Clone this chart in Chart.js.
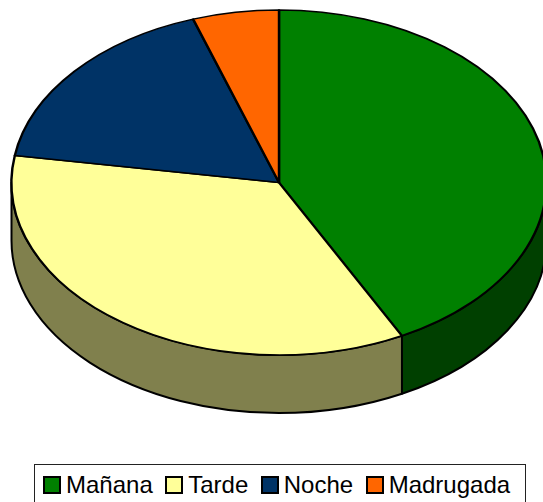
<!DOCTYPE html>
<html>
<head>
<meta charset="utf-8">
<script src="https://cdn.jsdelivr.net/npm/chart.js@4.4.1/dist/chart.umd.min.js"></script>
<style>
  html, body { margin: 0; padding: 0; background: #fff; width: 543px; height: 502px; overflow: hidden; }
  #wrap { position: absolute; left: 0; top: 0; width: 558px; height: 460px; }
  #legend {
    position: absolute; left: 34px; top: 464px; width: 492px; height: 48px;
    box-sizing: border-box; border: 1px solid #222; padding: 8px 0 0 8px;
    display: flex; align-items: flex-start;
    font-family: "Liberation Sans", Arial, sans-serif; font-size: 24px; color: #000;
  }
  #legend .item { display: flex; align-items: center; margin-right: 12.5px; height: 24px; }
  #legend .box { width: 18px; height: 18px; box-sizing: border-box; border: 2px solid #000; margin-right: 5px; }
  #legend span { line-height: 24px; }
</style>
</head>
<body>
<div id="wrap"><canvas id="pieChart"></canvas></div>
<div id="legend"></div>
<script>
// datos del grafico (porcentaje por franja horaria)
const labels = ['Mañana', 'Tarde', 'Noche', 'Madrugada'];
const values = [42.4, 35.1, 17.3, 5.2];
const colors = ['#008000', '#FFFF99', '#003366', '#FF6600'];

// aspecto 3D
const TILT = 0.645;   // alto/ancho de la elipse
const DEPTH = 0.217;  // grosor de la pared, relativo al radio horizontal
const SHADE = 0.5;    // oscurecido de la pared

function darker(hex) {
  const n = parseInt(hex.slice(1), 16);
  const r = Math.round(((n >> 16) & 255) * SHADE);
  const g = Math.round(((n >> 8) & 255) * SHADE);
  const b = Math.round((n & 255) * SHADE);
  return `rgb(${r}, ${g}, ${b})`;
}

// plugin: dibuja las paredes y aplana la tarta a una elipse
const pie3d = {
  id: 'pie3d',
  beforeDatasetsDraw(chart) {
    const ctx = chart.ctx;
    const area = chart.chartArea;
    const meta = chart.getDatasetMeta(0);
    const rx = area.width / 2;
    const ry = rx * TILT;
    const cx = (area.left + area.right) / 2;
    const cy = area.top + ry;
    const depth = rx * DEPTH;

    meta.data.forEach((arc, i) => {
      const a = Math.max(arc.startAngle, 0);
      const b = Math.min(arc.endAngle, Math.PI);
      if (a >= b) return;
      ctx.save();
      ctx.beginPath();
      ctx.ellipse(cx, cy, rx, ry, 0, a, b, false);
      ctx.lineTo(cx + rx * Math.cos(b), cy + ry * Math.sin(b) + depth);
      ctx.ellipse(cx, cy + depth, rx, ry, 0, b, a, true);
      ctx.closePath();
      ctx.fillStyle = darker(colors[i]);
      ctx.fill();
      ctx.lineWidth = 2;
      ctx.lineJoin = 'round';
      ctx.strokeStyle = '#000';
      ctx.stroke();
      ctx.restore();
    });

    const first = meta.data[0];
    const r = first.outerRadius;
    ctx.save();
    ctx.translate(cx, cy);
    ctx.scale(rx / r, ry / r);
    ctx.translate(-first.x, -first.y);
  },
  afterDatasetsDraw(chart) {
    chart.ctx.restore();
  }
};

const chart = new Chart(document.getElementById('pieChart'), {
  type: 'pie',
  data: {
    labels: labels,
    datasets: [{
      data: values,
      backgroundColor: colors,
      borderColor: '#000',
      borderWidth: 2,
      borderJoinStyle: 'round'
    }]
  },
  options: {
    responsive: true,
    maintainAspectRatio: false,
    animation: false,
    events: [],
    layout: { padding: { left: 11.5, right: 11.5, top: 10, bottom: 10 } },
    plugins: {
      legend: { display: false },
      tooltip: { enabled: false }
    }
  },
  plugins: [pie3d]
});

// leyenda en HTML a partir de los datos del grafico
const legend = document.getElementById('legend');
chart.data.labels.forEach((label, i) => {
  const item = document.createElement('div');
  item.className = 'item';
  item.innerHTML = `<div class="box" style="background:${chart.data.datasets[0].backgroundColor[i]}"></div><span>${label}</span>`;
  legend.appendChild(item);
});
</script>
</body>
</html>
